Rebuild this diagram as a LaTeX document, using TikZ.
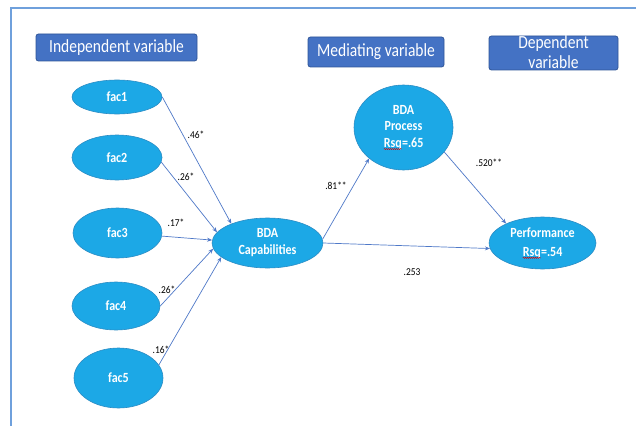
\documentclass[tikz,border=0pt]{standalone}
\usepackage{fontspec}
\setmainfont{Carlito}
\newfontfamily\hdrfont[FakeStretch=0.84]{Carlito}
\newfontfamily\elfont[FakeStretch=0.86]{Carlito}
\newfontfamily\lblfont[FakeStretch=0.9]{Carlito}
\usetikzlibrary{arrows.meta,decorations.pathmorphing,shapes.geometric}
\newcommand\redwave[1]{\tikz[baseline=(w.base),x=1pt,y=1pt]{\node[shape=rectangle, draw=none, fill=none, minimum width=0pt, minimum height=0pt, inner sep=0pt, outer sep=0pt] (w) {#1};
  \draw[red!85!black, line width=0.4pt, decorate, decoration={snake, amplitude=0.6pt, segment length=2pt}] ([yshift=-1.8pt]w.base west) -- ([yshift=-1.8pt]w.base east);}}
\definecolor{elfill}{HTML}{1CA8E6}
\definecolor{eldraw}{HTML}{2B8CC4}
\definecolor{hdfill}{HTML}{4472C4}
\definecolor{hddraw}{HTML}{2F5597}
\definecolor{arr}{HTML}{4F79C8}
\definecolor{frame}{HTML}{6FA0DC}
\begin{document}
\begin{tikzpicture}[x=1pt,y=-1pt,
  hdr/.style={draw=hddraw, fill=hdfill, rounded corners=2.5pt, line width=0.8pt, text=white, font=\hdrfont\fontsize{18.5}{20}\selectfont, inner sep=0pt, anchor=center},
  el/.style={ellipse, draw=eldraw, fill=elfill, line width=0.6pt, text=white, font=\elfont\bfseries\fontsize{14}{17}\selectfont, inner sep=0pt, align=center},
  con/.style={draw=arr, line width=0.7pt, -{Stealth[length=5pt,width=4pt]}},
  lbl/.style={font=\lblfont\fontsize{10.5}{11}\selectfont, text=black, inner sep=0pt}
]
\useasboundingbox (0,0) rectangle (636,425);
\fill[white] (0,0) rectangle (636,425);
% frame
\draw[frame, line width=1.3pt] (11,426) -- (11,8) -- (637,8);
% header boxes
\node[hdr, minimum width=161pt, minimum height=27pt] (hind) at (116.5,47.5) {Independent variable};
\node[hdr, minimum width=136pt, minimum height=30pt] (hmed) at (376,52) {Mediating variable};
\node[hdr, minimum width=129pt, minimum height=34pt] (hdep) at (553.5,53) {};
\node[font=\hdrfont\fontsize{18.5}{20}\selectfont, text=white, align=center, inner sep=0pt] (hdeptxt) at (553.5,52.5) {Dependent\\variable};
% ellipses
\node[el, minimum width=90pt, minimum height=34pt] (fac1) at (117,97) {fac1};
\node[el, minimum width=90pt, minimum height=45pt] (fac2) at (117,157.5) {fac2};
\node[el, minimum width=89pt, minimum height=50pt] (fac3) at (117.5,233) {fac3};
\node[el, minimum width=88pt, minimum height=48pt] (fac4) at (116,306) {fac4};
\node[el, minimum width=89pt, minimum height=60pt] (fac5) at (118.5,378) {fac5};
\node[el, minimum width=111pt, minimum height=50pt] (cap) at (267.5,243) {BDA\\Capabilities};
\node[el, minimum width=99pt, minimum height=85pt, font=\elfont\bfseries\fontsize{14}{16.5}\selectfont] (proc) at (403.5,127.5) {BDA\\Process\\\redwave{Rsq}=.65};
\node[el, minimum width=107pt, minimum height=52pt, font=\elfont\bfseries\fontsize{14}{19}\selectfont] (perf) at (542.5,243) {Performance\\\redwave{Rsq}=.54};
% connectors
\draw[con] (fac1.east) -- (cap.152);
\draw[con] (fac2.-6) -- (cap.168);
\draw[con] (fac3.-4) -- (cap.177);
\draw[con] (fac4.east) -- (cap.186);
\draw[con] (fac5.18) -- (cap.197);
\draw[con] (cap.4) -- (proc.222);
\draw[con] (cap.east) -- (perf.186);
\draw[con] (proc.-31) -- (perf.152);
% labels
\node[lbl] (l1) at (196,135) {.46*};
\node[lbl] (l2) at (186,177) {.26*};
\node[lbl] (l3) at (176,223) {.17*};
\node[lbl] (l4) at (167,290) {.26*};
\node[lbl] (l5) at (161,350) {.16*};
\node[lbl] (l6) at (336,186) {.81**};
\node[lbl] (l7) at (489,163) {.520**};
\node[lbl] (l8) at (412,272) {.253};
\end{tikzpicture}
\end{document}
